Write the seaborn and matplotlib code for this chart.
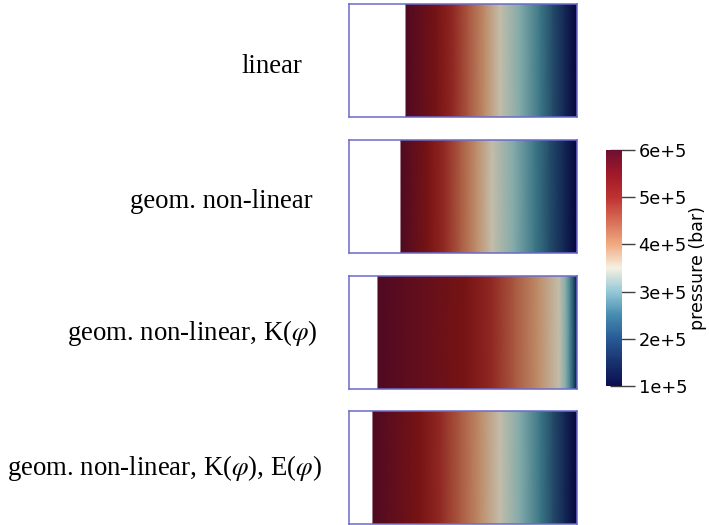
import numpy as np
import matplotlib
matplotlib.use("Agg")
import matplotlib.pyplot as plt
import matplotlib.colors as mcolors
import matplotlib.cm as cm
import seaborn as sns

sns.set_style("white")
plt.rcParams["mathtext.fontset"] = "stix"

# pressure levels (x 1e5 bar) and where each level sits along the column
# (fraction of the column length, 0 = left wall, 1 = drained right end)
pressure_levels = [6.0, 5.5, 5.0, 4.5, 4.0, 3.5, 3.0, 2.5, 2.0, 1.5, 1.0]

model_names = [
    "linear",
    "geom. non-linear",
    r"geom. non-linear, K($\varphi$)",
    r"geom. non-linear, K($\varphi$), E($\varphi$)",
]

pos_linear = [0.250, 0.386, 0.456, 0.526, 0.596, 0.662, 0.750, 0.838, 0.895, 0.947, 1.0]
pos_geom = [0.228, 0.346, 0.417, 0.487, 0.557, 0.627, 0.724, 0.816, 0.882, 0.943, 1.0]
pos_geom_k = [0.127, 0.509, 0.627, 0.728, 0.829, 0.921, 0.952, 0.974, 0.987, 0.996, 1.0]
pos_geom_ke = [0.105, 0.311, 0.399, 0.487, 0.575, 0.662, 0.750, 0.838, 0.895, 0.947, 1.0]
profiles = [pos_linear, pos_geom, pos_geom_k, pos_geom_ke]

tick_values = [1, 2, 3, 4, 5, 6]
tick_labels = ["1e+5", "2e+5", "3e+5", "4e+5", "5e+5", "6e+5"]

# colour scale from 1e5 to 6e5 in steps of 0.5e5
bar_colors = [(10, 15, 80), (25, 50, 110), (40, 90, 150), (70, 140, 175),
              (150, 200, 215), (245, 240, 225), (240, 170, 130), (215, 110, 85),
              (190, 50, 50), (160, 25, 40), (110, 15, 50)]
# same scale as it appears on the lit surface
surface_colors = [(5, 5, 60), (20, 40, 85), (35, 75, 105), (60, 120, 135),
                  (130, 170, 170), (195, 190, 170), (190, 140, 105), (170, 90, 65),
                  (145, 40, 35), (120, 20, 20), (80, 10, 35)]


def to_rgb(lst):
    return [tuple(c / 255 for c in col) for col in lst]


cmap_bar = sns.blend_palette(to_rgb(bar_colors), as_cmap=True)
cmap_surface = sns.blend_palette(to_rgb(surface_colors), as_cmap=True)
norm = mcolors.Normalize(vmin=1.0, vmax=6.0)

W, H = 709, 525
fig = plt.figure(figsize=(W / 100, H / 100), dpi=100)

panel_tops = [4, 140, 276, 411]
panel_h = 113
panel_left, panel_w = 349, 228
label_right = [302, 313, 318, 322]
label_base = [73, 208, 340, 475]
edge_col = "#6a6acc"

for i, (name, pos) in enumerate(zip(model_names, profiles)):
    top = panel_tops[i]
    ax = fig.add_axes([panel_left / W, 1 - (top + panel_h) / H,
                       panel_w / W, panel_h / H])
    ax.set_xlim(0, 1)
    ax.set_ylim(0, 1)
    x = np.array([pos, pos])
    y = np.array([[0.0] * len(pos), [1.0] * len(pos)])
    c = np.array([pressure_levels, pressure_levels])
    ax.pcolormesh(x, y, c, cmap=cmap_surface, norm=norm, shading="gouraud")
    ax.set_xticks([])
    ax.set_yticks([])
    for s in ax.spines.values():
        s.set_visible(True)
        s.set_color(edge_col)
        s.set_linewidth(1.1)
    fig.text(label_right[i] / W, 1 - label_base[i] / H, name,
             ha="right", va="baseline", fontsize=19.3,
             family="Liberation Serif", color="black")

# colour bar
cax = fig.add_axes([606 / W, 1 - 386 / H, 16 / W, 236 / H])
sm = cm.ScalarMappable(norm=norm, cmap=cmap_bar)
cb = fig.colorbar(sm, cax=cax)
cb.outline.set_visible(False)
cb.set_ticks(tick_values)
cb.set_ticklabels(tick_labels)
cax.tick_params(axis="y", direction="inout", length=18, width=1,
                color="#404040", labelsize=12.8, pad=3, labelcolor="black")
for lab in cax.get_yticklabels():
    lab.set_family("DejaVu Sans")
cb.set_label("pressure (bar)", fontsize=12.5, family="DejaVu Sans",
             labelpad=1, color="black")

fig.savefig("out.png", dpi=100)
